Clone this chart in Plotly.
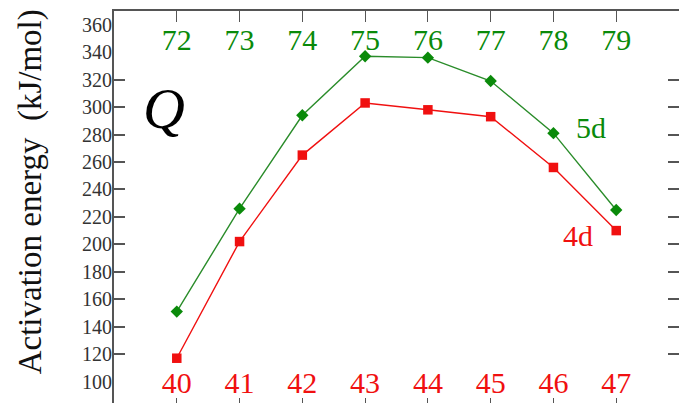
import plotly.graph_objects as go

# Atomic numbers for the two transition-metal rows
z_4d = [40, 41, 42, 43, 44, 45, 46, 47]
z_5d = [72, 73, 74, 75, 76, 77, 78, 79]

# Activation energies (kJ/mol)
e_4d = [117, 202, 265, 303, 298, 293, 256, 210]
e_5d = [151, 226, 294, 337, 336, 319, 281, 225]

y_ticks = list(range(100, 361, 20))

GREEN = "#0a8a0a"
GREEN_LINE = "#2a8c2a"
RED = "#f01010"
AXIS = "#555555"
SERIF = "Liberation Serif"

W, H = 690, 420
L, T = 114, 11
PW, PH = 567, 398


def px_x(p):
    return (p - L) / PW


def px_y(p):
    return (T + PH - p) / PH


fig = go.Figure()

fig.add_trace(go.Scatter(
    x=z_4d, y=e_4d, xaxis="x", yaxis="y", mode="lines+markers",
    line=dict(color=RED, width=1.4),
    marker=dict(symbol="square", size=9.5, color=RED),
    showlegend=False, cliponaxis=False,
))
fig.add_trace(go.Scatter(
    x=z_5d, y=e_5d, xaxis="x2", yaxis="y", mode="lines+markers",
    line=dict(color=GREEN_LINE, width=1.4),
    marker=dict(symbol="diamond", size=9.5, color=GREEN),
    showlegend=False, cliponaxis=False,
))
# invisible trace carrying the left-hand tick-label axis on its own x/y pair
fig.add_trace(go.Scatter(
    x=[z_4d[0]], y=[y_ticks[0]], xaxis="x3", yaxis="y3", mode="markers",
    marker=dict(size=1, opacity=0), showlegend=False, hoverinfo="skip",
))

fig.update_layout(
    width=W, height=H,
    margin=dict(l=L, t=T, r=W - L - PW, b=H - T - PH, pad=0),
    paper_bgcolor="white", plot_bgcolor="white",
    font=dict(family=SERIF, color="#222222"),
    xaxis=dict(
        range=[z_4d[0] - 1, z_4d[-1] + 1], tickvals=z_4d,
        ticks="inside", ticklen=11, tickwidth=1.2, tickcolor=AXIS,
        ticklabelposition="inside", ticklabelstandoff=2,
        tickfont=dict(family=SERIF, size=30, color=RED),
        showline=True, linecolor=AXIS, linewidth=1.5,
        showgrid=False, zeroline=False,
    ),
    xaxis2=dict(
        range=[z_5d[0] - 1, z_5d[-1] + 1], tickvals=z_5d,
        overlaying="x", side="top", anchor="y",
        ticks="inside", ticklen=11, tickwidth=1.2, tickcolor=AXIS,
        ticklabelposition="inside", ticklabelstandoff=10,
        tickfont=dict(family=SERIF, size=30, color=GREEN),
        showline=True, linecolor=AXIS, linewidth=1.5,
        showgrid=False, zeroline=False,
    ),
    xaxis3=dict(
        range=[z_4d[0] - 1, z_4d[-1] + 1], overlaying="x", anchor="y3",
        visible=False,
    ),
    yaxis=dict(
        range=[80, 370], tickvals=y_ticks, showticklabels=False,
        ticks="inside", ticklen=11, tickwidth=1.5, tickcolor=AXIS,
        showline=True, linecolor=AXIS, linewidth=1.5, mirror="ticks",
        showgrid=False, zeroline=False,
    ),
    yaxis3=dict(
        range=[80, 370], tickvals=y_ticks, overlaying="y",
        anchor="x3", side="left",
        ticks="", showline=False, showgrid=False, zeroline=False,
        ticklabelstandoff=1,
        tickfont=dict(family=SERIF, size=20, color="#333333"),
    ),
    annotations=[
        dict(text="Activation energy  (kJ/mol)", textangle=-90,
             xref="paper", yref="paper", x=px_x(30), y=px_y(192),
             xanchor="center", yanchor="middle",
             showarrow=False, font=dict(family=SERIF, size=33, color="#111111")),
        dict(text="<i>Q</i>", xref="paper", yref="paper",
             x=px_x(164), y=px_y(108), xanchor="center", yanchor="middle",
             showarrow=False, font=dict(family=SERIF, size=58, color="black")),
        dict(text="5d", xref="paper", yref="paper",
             x=px_x(593), y=px_y(127), xanchor="center", yanchor="middle",
             showarrow=False, font=dict(family=SERIF, size=30, color=GREEN)),
        dict(text="4d", xref="paper", yref="paper",
             x=px_x(580), y=px_y(236), xanchor="center", yanchor="middle",
             showarrow=False, font=dict(family=SERIF, size=30, color=RED)),
    ],
)

fig.write_html(
    "out.html",
    config={"displayModeBar": False},
    post_script="document.documentElement.style.overflow='hidden';"
                "document.body.style.overflow='hidden';",
)
